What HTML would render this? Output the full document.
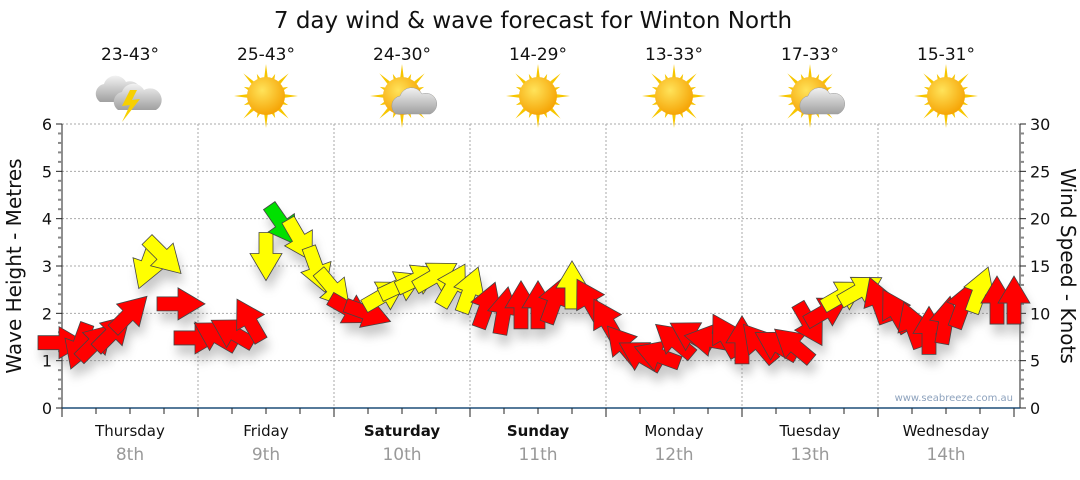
<!DOCTYPE html>
<html><head><meta charset="utf-8"><style>
body{margin:0;background:#fff;width:1080px;height:475px;overflow:hidden;font-family:"Liberation Sans",sans-serif}
svg text{font-family:"DejaVu Sans","Liberation Sans",sans-serif}
</style></head><body>
<svg id="chart" width="1080" height="475" viewBox="0 0 1080 475" xmlns="http://www.w3.org/2000/svg">
<defs>
<filter id="sh" x="-50%" y="-50%" width="200%" height="200%"><feGaussianBlur stdDeviation="5"/></filter>
<radialGradient id="sun" cx="0.4" cy="0.35" r="0.7"><stop offset="0" stop-color="#ffe35a"/><stop offset="1" stop-color="#f5a000"/></radialGradient>
<linearGradient id="cloud" x1="0" y1="0" x2="0" y2="1"><stop offset="0" stop-color="#f2f2f2"/><stop offset="1" stop-color="#a0a0a0"/></linearGradient>
</defs>
<text x="533" y="28" font-size="23" text-anchor="middle" fill="#111">7 day wind &amp; wave forecast for Winton North</text>
<g id="grid"></g><g id="axes"></g><g id="header"></g><g id="marks"></g>
<text transform="translate(21,266) rotate(-90)" font-size="20" text-anchor="middle" fill="#111">Wave Height - Metres</text>
<text transform="translate(1061,266) rotate(90)" font-size="20" text-anchor="middle" fill="#111">Wind Speed - Knots</text>
<text x="1013" y="401" font-size="10" text-anchor="end" fill="#8da2bd">www.seabreeze.com.au</text>
</svg>
<script>
const days=["Thursday","Friday","Saturday","Sunday","Monday","Tuesday","Wednesday"];
const dates=["8th","9th","10th","11th","12th","13th","14th"];
const temps=["23-43°","25-43°","24-30°","14-29°","13-33°","17-33°","15-31°"];
const icons=["storm","sun","partly","sun","sun","partly","sun"];
const waveTicks=[0,1,2,3,4,5,6];
const windTicks=[0,5,10,15,20,25,30];
// wind every 3 hours from Thursday 00:00
const windSpeed=[6.9,6.5,7,8,10,15,16,11,7.4,7.7,8,9.3,16,19.3,17.7,14.6,12.5,10.3,10,12,13,13.7,14,13,12.5,10.9,10.3,10.9,10.9,11.4,13,11.4,9.3,6.7,5.6,5.6,7.2,7.7,7.2,7.7,7.2,6.9,6.7,6.7,8.8,10.3,12,12.5,11.4,10.3,8.8,8.2,9.3,10.9,12.5,11.4,11.4];
const windDir=[90,200,45,45,45,200,135,90,90,300,300,330,180,145,150,160,140,120,110,60,65,65,60,30,20,20,10,0,0,20,0,330,330,320,300,290,310,300,280,330,0,320,300,310,150,60,60,60,340,330,340,0,10,20,20,0,0];
const NS="http://www.w3.org/2000/svg";
const X0=62,X1=1020,Y0=408,Y1=124,DAYW=136;
const xHour=h=>X0+h*DAYW/24;
const yWave=m=>Y0-(Y0-Y1)*m/6;
const yWind=k=>Y0-(Y0-Y1)*k/30;
function mk(tag,attrs,parent){const e=document.createElementNS(NS,tag);for(const k in attrs)e.setAttribute(k,attrs[k]);parent.appendChild(e);return e;}
const grid=document.getElementById('grid'),axes=document.getElementById('axes'),header=document.getElementById('header'),marks=document.getElementById('marks');
waveTicks.forEach(m=>{if(m===0)return;const l=mk('line',{x1:X0,x2:X1,y1:yWave(m),y2:yWave(m),stroke:'#aaa','stroke-dasharray':'2,2'},grid);

});
for(let d=1;d<7;d++){const l=mk('line',{x1:xHour(d*24),x2:xHour(d*24),y1:Y1,y2:Y0,stroke:'#aaa','stroke-dasharray':'2,2'},grid);

}
mk('line',{x1:X0,x2:X0,y1:Y1,y2:Y0+6,stroke:'#222'},axes);
for(let i=0;i<=30;i++){const y=yWave(i*0.2);mk('line',{x1:X0-(i%5==0?6:4),x2:X0,y1:y,y2:y,stroke:i%5==0?'#222':'#888','stroke-width':i%5==0?1:2},axes);}
waveTicks.forEach(m=>{const t=mk('text',{x:X0-10,y:yWave(m)+6,'font-size':16,'text-anchor':'end',fill:'#111'},axes);t.textContent=m;

});
mk('line',{x1:X1,x2:X1,y1:Y1,y2:Y0,stroke:'#222'},axes);
for(let k=0;k<=30;k++){const y=yWind(k);mk('line',{x1:X1,x2:X1+(k%5==0?6:4),y1:y,y2:y,stroke:k%5==0?'#222':'#888','stroke-width':k%5==0?1:2},axes);}
windTicks.forEach(k=>{const t=mk('text',{x:X1+10,y:yWind(k)+6,'font-size':16,fill:'#111'},axes);t.textContent=k;

});
mk('line',{x1:X0,x2:X1,y1:Y0,y2:Y0,stroke:'#1f4e79','stroke-width':1.5},axes);
for(let h=0;h<=168;h+=6){mk('line',{x1:xHour(h),x2:xHour(h),y1:Y0,y2:Y0+(h%24==0?9:6),stroke:'#222'},axes);}
days.forEach((d,i)=>{const cx=xHour(i*24+12);
const t=mk('text',{x:cx,y:436,'font-size':15,'text-anchor':'middle',fill:'#111','font-weight':(i==2||i==3)?'bold':'normal'},axes);t.textContent=d;


const t2=mk('text',{x:cx,y:460,'font-size':17,'text-anchor':'middle',fill:'#999'},axes);t2.textContent=dates[i];


const t3=mk('text',{x:cx,y:60,'font-size':17,'text-anchor':'middle',fill:'#111'},header);t3.textContent=temps[i];


const g=mk('g',{transform:`translate(${cx},96)`},header);


if(icons[i]!='storm'){
 for(let r=0;r<16;r++){const a=r*Math.PI/8,L=r%2?24:32;mk('polygon',{points:`${Math.cos(a-0.13)*16},${Math.sin(a-0.13)*16} ${Math.cos(a)*L},${Math.sin(a)*L} ${Math.cos(a+0.13)*16},${Math.sin(a+0.13)*16}`,fill:'#f7c600'},g);}
 mk('circle',{cx:0,cy:0,r:19,fill:'url(#sun)'},g);
 if(icons[i]=='partly'){mk('path',{d:'M-6,18 a10,10 0 0 1 4,-18 a12,12 0 0 1 22,-2 a10,10 0 0 1 8,20 z',fill:'url(#cloud)',stroke:'#999','stroke-width':0.5},g);}
}else{
 mk('path',{d:'M-30,6 a10,10 0 0 1 4,-18 a12,12 0 0 1 22,-2 a10,10 0 0 1 8,20 z',fill:'url(#cloud)'},g);
 mk('path',{d:'M-12,14 a10,10 0 0 1 4,-18 a12,12 0 0 1 22,-2 a10,10 0 0 1 12,20 z',fill:'url(#cloud)'},g);
 mk('polygon',{points:'0,-6 -8,10 0,9 -8,26 10,3 2,4 7,-6',fill:'#f7d000'},g);
}
});
const shadowG=mk('g',{filter:'url(#sh)',opacity:0.35},marks);
windSpeed.forEach((s,i)=>{const x=xHour(i*3),y=yWind(s),a=windDir[i];
const col=s>=18?'#00e000':(s>=12?'#ffff00':'#ff0000');
const pts='-7,24 7,24 7,3 16,3 0,-24 -16,3 -7,3';
mk('polygon',{points:pts,fill:'#666',transform:`translate(${x+3},${y+10}) rotate(${a})`},shadowG);
const p=mk('polygon',{points:pts,fill:col,stroke:'#444','stroke-width':0.8,transform:`translate(${x},${y}) rotate(${a})`},marks);


});
</script>
</body></html>
